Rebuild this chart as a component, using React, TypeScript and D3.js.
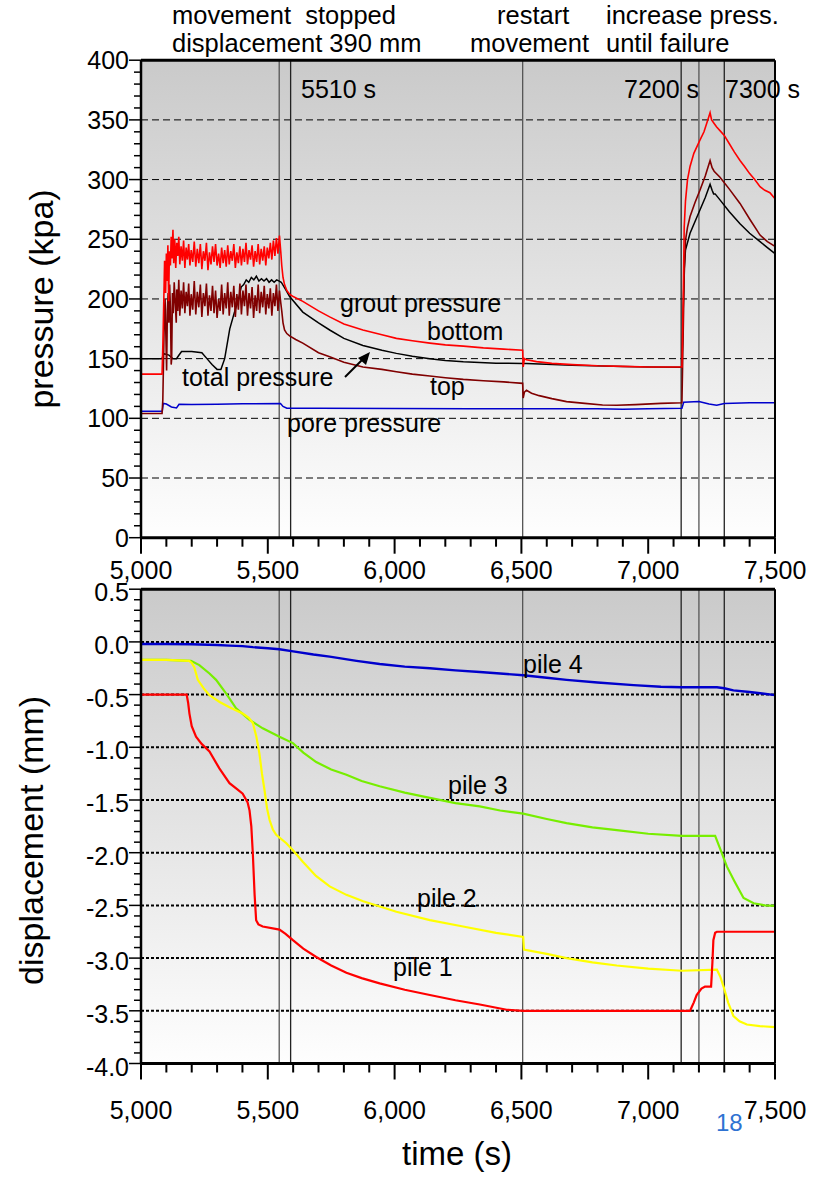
import React from "react";
import * as d3 from "d3";

// ---------- data ----------
const timeTicks = [5000, 5500, 6000, 6500, 7000, 7500];
const pressureTicks = [0, 50, 100, 150, 200, 250, 300, 350, 400];
const pressureGrid = [50, 100, 150, 200, 250, 300, 350];
const dispTicks = [0.5, 0, -0.5, -1, -1.5, -2, -2.5, -3, -3.5, -4];
const dispGrid = [0, -0.5, -1, -1.5, -2, -2.5, -3, -3.5];
const eventTimes = [5545, 5590, 6505, 7130, 7200, 7300];

type P = [number, number];

const groutBottom: P[] = [
  [5000, 137], [5083, 137], [5086, 160], [5090, 200], [5093, 232], [5097, 205], [5100, 238], [5103, 215], [5106, 245], [5109, 198],
  [5112, 240], [5116, 228], [5119, 252], [5122, 234], [5126, 258], [5129, 230], [5133, 250], [5137, 226], [5141, 247], [5145, 236],
  [5149, 252], [5153, 229], [5158, 244], [5163, 232], [5168, 249], [5173, 226], [5178, 243], [5183, 233], [5188, 246], [5193, 228],
  [5198, 241], [5204, 231], [5210, 248], [5216, 227], [5222, 242], [5228, 230], [5234, 246], [5240, 225], [5246, 240], [5252, 232],
  [5258, 247], [5264, 224], [5270, 239], [5276, 229], [5282, 244], [5288, 231], [5294, 246], [5300, 228], [5306, 238], [5312, 226],
  [5318, 243], [5324, 230], [5330, 241], [5336, 227], [5342, 245], [5348, 229], [5354, 240], [5360, 232], [5366, 246], [5372, 226],
  [5378, 239], [5384, 230], [5390, 244], [5396, 228], [5402, 242], [5408, 231], [5414, 247], [5420, 229], [5426, 241], [5432, 233],
  [5438, 245], [5444, 227], [5450, 240], [5456, 231], [5462, 246], [5468, 229], [5474, 242], [5480, 232], [5486, 244], [5492, 228],
  [5498, 243], [5504, 234], [5510, 247], [5516, 233], [5522, 249], [5528, 236], [5534, 251], [5540, 238], [5546, 253], [5551, 240],
  [5555, 228], [5560, 218], [5566, 212], [5575, 207], [5586, 204], [5600, 202], [5638, 198], [5700, 190], [5744, 185], [5800, 179],
  [5875, 174], [5950, 170], [6007, 167], [6070, 165], [6139, 163], [6200, 161.5], [6271, 160.5], [6350, 159], [6430, 158], [6505, 157],
  [6507, 143], [6512, 150], [6520, 149], [6560, 147.5], [6620, 146], [6700, 145], [6800, 144], [6900, 143.5], [7000, 143], [7100, 143],
  [7133, 143], [7138, 200], [7142, 260], [7147, 282], [7155, 300], [7165, 311], [7180, 322], [7204, 333], [7220, 340], [7235, 350],
  [7244, 356], [7250, 350], [7260, 347], [7270, 344], [7283, 341], [7300, 337], [7320, 330], [7340, 323], [7362, 316], [7380, 311],
  [7400, 305], [7420, 300], [7441, 294], [7460, 291], [7480, 289], [7500, 284],
];

const groutTop: P[] = [
  [5000, 104], [5083, 104], [5086, 115], [5089, 150], [5092, 185], [5095, 200], [5098, 170], [5101, 140], [5104, 190], [5107, 205],
  [5110, 180], [5113, 212], [5116, 192], [5119, 145], [5121, 150], [5124, 205], [5127, 188], [5131, 214], [5135, 196], [5139, 180],
  [5141, 208], [5145, 190], [5149, 216], [5153, 186], [5158, 207], [5163, 192], [5168, 214], [5173, 188], [5178, 206], [5183, 194],
  [5188, 213], [5193, 186], [5198, 204], [5204, 191], [5210, 215], [5216, 187], [5222, 206], [5228, 193], [5234, 212], [5240, 185],
  [5246, 205], [5252, 194], [5258, 213], [5264, 186], [5270, 203], [5276, 190], [5282, 211], [5288, 188], [5294, 207], [5300, 184],
  [5306, 200], [5312, 190], [5318, 212], [5324, 187], [5330, 205], [5336, 192], [5342, 214], [5348, 186], [5354, 206], [5360, 193],
  [5366, 211], [5372, 185], [5378, 204], [5384, 191], [5390, 213], [5396, 187], [5402, 207], [5408, 194], [5414, 212], [5420, 186],
  [5426, 205], [5432, 192], [5438, 210], [5444, 184], [5450, 203], [5456, 190], [5462, 212], [5468, 188], [5474, 206], [5480, 193],
  [5486, 211], [5492, 187], [5498, 204], [5504, 192], [5510, 209], [5516, 186], [5522, 205], [5528, 194], [5534, 212], [5540, 190],
  [5546, 207], [5551, 197], [5555, 190], [5560, 180], [5566, 174], [5575, 171], [5586, 169], [5610, 166], [5638, 163], [5700, 155],
  [5744, 151.6], [5800, 147], [5875, 143], [5950, 141], [6007, 139], [6070, 137], [6139, 135.4], [6200, 134], [6271, 132.6], [6350, 131.5],
  [6430, 130.5], [6505, 129.3], [6507, 117], [6512, 122], [6520, 123.5], [6540, 121], [6570, 119], [6620, 116.5], [6678, 114], [6750, 112.5],
  [6820, 111.2], [6876, 111], [6950, 111.5], [7050, 112.5], [7133, 113], [7137, 160], [7142, 220], [7147, 249], [7155, 260], [7165, 269],
  [7185, 281], [7204, 291], [7225, 303], [7244, 316], [7252, 310], [7260, 307], [7283, 302], [7320, 292], [7362, 280], [7400, 267],
  [7441, 253.5], [7470, 248], [7500, 244],
];

const totalPressure: P[] = [
  [5000, 150], [5083, 150], [5087, 153], [5092, 154], [5110, 153], [5125, 150], [5140, 150], [5150, 153], [5160, 156], [5200, 156],
  [5240, 155], [5260, 150], [5280, 145], [5300, 141], [5315, 141], [5330, 150], [5350, 175], [5370, 190], [5385, 200], [5395, 210],
  [5405, 212], [5415, 216], [5425, 214], [5435, 218], [5445, 216], [5455, 219], [5465, 215], [5475, 217], [5485, 215], [5495, 217],
  [5505, 214], [5515, 216], [5525, 214], [5535, 216], [5545, 215], [5553, 214], [5570, 208], [5586, 202], [5638, 189], [5700, 180],
  [5744, 174], [5800, 167], [5875, 161], [5950, 157], [6007, 154.4], [6070, 152], [6139, 150], [6200, 148.5], [6271, 147.4], [6400, 146.2],
  [6506, 146], [6520, 146], [6700, 144.5], [6900, 143.5], [7000, 143], [7133, 142.7], [7138, 190], [7142, 225], [7147, 241], [7165, 255],
  [7204, 274.5], [7225, 285], [7244, 296], [7252, 291], [7258, 288], [7264, 288], [7283, 283], [7320, 273], [7362, 263], [7400, 255],
  [7441, 248], [7470, 243], [7500, 238],
];

const porePressure: P[] = [
  [5000, 106], [5084, 106], [5088, 112.5], [5100, 112], [5120, 109.5], [5140, 108.7], [5150, 111.7], [5200, 111.5], [5300, 111.8],
  [5400, 112.2], [5550, 112.5], [5560, 110], [5575, 108.5], [5700, 108.5], [6000, 108.3], [6300, 108], [6500, 108], [6800, 108],
  [6900, 107.5], [7000, 108], [7133, 108.5], [7140, 113.5], [7200, 114], [7240, 112], [7270, 111], [7300, 112.5], [7400, 113], [7500, 113],
];

const pile4: P[] = [
  [5000, -0.02], [5100, -0.02], [5200, -0.022], [5300, -0.03], [5349, -0.035], [5400, -0.04], [5441, -0.05], [5500, -0.06], [5546, -0.07],
  [5600, -0.09], [5680, -0.12], [5744, -0.14], [5850, -0.18], [5941, -0.21], [6040, -0.235], [6139, -0.25], [6240, -0.27], [6336, -0.285],
  [6416, -0.3], [6507, -0.316], [6600, -0.34], [6678, -0.36], [6800, -0.385], [6942, -0.41], [7050, -0.425], [7133, -0.43], [7200, -0.43],
  [7271, -0.43], [7300, -0.44], [7336, -0.46], [7400, -0.475], [7450, -0.49], [7500, -0.505],
];

const pile3: P[] = [
  [5000, -0.17], [5100, -0.17], [5197, -0.18], [5230, -0.22], [5270, -0.3], [5296, -0.36], [5336, -0.49], [5375, -0.63], [5428, -0.74],
  [5480, -0.82], [5546, -0.9], [5599, -0.96], [5640, -1.05], [5691, -1.14], [5750, -1.21], [5810, -1.26], [5870, -1.32], [5941, -1.37],
  [6040, -1.43], [6139, -1.48], [6240, -1.53], [6336, -1.56], [6416, -1.6], [6507, -1.63], [6600, -1.68], [6678, -1.72], [6780, -1.76],
  [6876, -1.785], [7000, -1.82], [7133, -1.84], [7264, -1.84], [7285, -1.97], [7310, -2.13], [7340, -2.27], [7376, -2.43], [7416, -2.48],
  [7460, -2.5], [7500, -2.505],
];

const pile2: P[] = [
  [5000, -0.17], [5100, -0.17], [5190, -0.18], [5200, -0.2], [5210, -0.24], [5224, -0.36], [5250, -0.45], [5270, -0.505], [5310, -0.57],
  [5349, -0.62], [5401, -0.68], [5425, -0.72], [5441, -0.77], [5455, -0.9], [5467, -1.06], [5477, -1.25], [5487, -1.405], [5497, -1.58],
  [5507, -1.69], [5520, -1.78], [5533, -1.83], [5573, -1.91], [5600, -1.98], [5638, -2.085], [5690, -2.22], [5744, -2.32], [5810, -2.4],
  [5876, -2.46], [6007, -2.56], [6139, -2.64], [6270, -2.7], [6400, -2.76], [6507, -2.8], [6510, -2.92], [6600, -2.96], [6678, -3.0],
  [6780, -3.04], [6876, -3.07], [7000, -3.1], [7133, -3.12], [7271, -3.11], [7285, -3.18], [7297, -3.27], [7315, -3.42], [7336, -3.55],
  [7360, -3.6], [7389, -3.63], [7440, -3.645], [7500, -3.655],
];

const pile1: P[] = [
  [5000, -0.5], [5100, -0.5], [5180, -0.5], [5186, -0.58], [5191, -0.68], [5200, -0.8], [5217, -0.9], [5240, -0.97], [5270, -1.04],
  [5309, -1.2], [5349, -1.34], [5380, -1.4], [5401, -1.44], [5420, -1.52], [5428, -1.6], [5435, -1.75], [5441, -2.01], [5448, -2.4],
  [5454, -2.64], [5463, -2.68], [5480, -2.7], [5546, -2.73], [5570, -2.77], [5599, -2.83], [5640, -2.91], [5691, -2.99], [5750, -3.07],
  [5810, -3.14], [5870, -3.19], [5941, -3.24], [6040, -3.3], [6139, -3.35], [6240, -3.4], [6336, -3.44], [6442, -3.49], [6507, -3.5],
  [6800, -3.5], [7165, -3.5], [7180, -3.42], [7191, -3.35], [7210, -3.29], [7224, -3.27], [7248, -3.27], [7253, -3.05], [7257, -2.83],
  [7264, -2.76], [7271, -2.75], [7500, -2.75],
];

// ---------- layout ----------
const W = 822;
const H = 1177;
const FONT = "'Liberation Sans', Arial, sans-serif";
const LEFT = 141;
const RIGHT = 775;
const TOP1 = 60.2;
const BOT1 = 537.7;
const TOP2 = 589.2;
const BOT2 = 1063.5;

const x = d3.scaleLinear().domain([5000, 7500]).range([LEFT, RIGHT]);
const yP = d3.scaleLinear().domain([0, 400]).range([BOT1, TOP1]);
const yD = d3.scaleLinear().domain([-4, 0.5]).range([BOT2, TOP2]);

const lineP = d3.line<P>().x((d) => x(d[0])).y((d) => yP(d[1]));
const lineD = d3.line<P>().x((d) => x(d[0])).y((d) => yD(d[1]));

const minorTimes = d3.range(5000, 7501, 100);
const minorP = d3.range(0, 401, 10);
const minorD = d3.range(-40, 6, 1).map((v) => v / 10);

const fmtTime = d3.format(",");

function XAxis({ yBase, labelY }: { yBase: number; labelY: number }) {
  return (
    <g>
      {minorTimes.map((t) => {
        const major = t % 500 === 0;
        return (
          <line key={t} x1={x(t)} x2={x(t)} y1={yBase} y2={yBase + (major ? 16 : 9)} stroke="#000" strokeWidth={2} />
        );
      })}
      {timeTicks.map((t) => (
        <text key={t} x={x(t)} y={labelY} textAnchor="middle" fontSize={25} fontFamily={FONT} fill="#000">
          {fmtTime(t)}
        </text>
      ))}
    </g>
  );
}

export default function App() {
  return (
    <svg width={W} height={H} style={{ position: "absolute", left: 0, top: 0, background: "#fff" }}>
      <defs>
        <linearGradient id="bg" x1="0" y1="0" x2="0" y2="1">
          <stop offset="0%" stopColor="#cacaca" />
          <stop offset="100%" stopColor="#fefefe" />
        </linearGradient>
      </defs>

      {/* ---------- top panel ---------- */}
      <rect x={LEFT} y={TOP1} width={RIGHT - LEFT} height={BOT1 - TOP1} fill="url(#bg)" />
      {pressureGrid.map((v) => (
        <line key={v} x1={LEFT} x2={RIGHT} y1={yP(v)} y2={yP(v)} stroke="#000" strokeWidth={1} strokeDasharray="7,4" />
      ))}
      {eventTimes.map((t, i) => (
        <line key={t} x1={x(t)} x2={x(t)} y1={TOP1} y2={BOT1} stroke={i % 2 === 0 ? "#555" : "#222"} strokeWidth={1.3} />
      ))}
      <path d={lineP(porePressure) || ""} fill="none" stroke="#0000cc" strokeWidth={1.5} />
      <path d={lineP(totalPressure) || ""} fill="none" stroke="#000" strokeWidth={1.5} />
      <path d={lineP(groutTop) || ""} fill="none" stroke="#800000" strokeWidth={1.6} />
      <path d={lineP(groutBottom) || ""} fill="none" stroke="#ff0000" strokeWidth={1.6} />

      {/* frame */}
      <line x1={LEFT} x2={RIGHT} y1={TOP1} y2={TOP1} stroke="#000" strokeWidth={3} />
      <line x1={RIGHT} x2={RIGHT} y1={TOP1} y2={BOT1} stroke="#000" strokeWidth={2} />
      <line x1={LEFT} x2={LEFT} y1={TOP1} y2={BOT1} stroke="#000" strokeWidth={2.5} />
      <line x1={LEFT} x2={RIGHT} y1={BOT1} y2={BOT1} stroke="#000" strokeWidth={3} />
      {minorP.map((v) => (
        <line key={v} x1={LEFT} x2={LEFT - (v % 50 === 0 ? 12 : 7)} y1={yP(v)} y2={yP(v)} stroke="#000" strokeWidth={1.5} />
      ))}
      {pressureTicks.map((v) => (
        <text key={v} x={129} y={yP(v)} dy="0.36em" textAnchor="end" fontSize={25} fontFamily={FONT}>
          {v}
        </text>
      ))}
      <XAxis yBase={BOT1} labelY={579} />
      <text transform={`translate(53,${(TOP1 + BOT1) / 2}) rotate(-90)`} textAnchor="middle" fontSize={34} fontFamily={FONT}>
        pressure (kpa)
      </text>

      {/* annotations top */}
      <text x={172} y={24} fontSize={25.5} fontFamily={FONT} style={{ whiteSpace: "pre" }}>
        {"movement  stopped"}
      </text>
      <text x={172} y={52} fontSize={25.5} fontFamily={FONT}>
        displacement 390 mm
      </text>
      <text x={497} y={24} fontSize={25.5} fontFamily={FONT}>
        restart
      </text>
      <text x={470} y={52} fontSize={25.5} fontFamily={FONT}>
        movement
      </text>
      <text x={606} y={24} fontSize={25.5} fontFamily={FONT}>
        increase press.
      </text>
      <text x={606} y={52} fontSize={25.5} fontFamily={FONT}>
        until failure
      </text>
      <text x={301} y={98} fontSize={25} fontFamily={FONT}>
        5510 s
      </text>
      <text x={624} y={98} fontSize={25} fontFamily={FONT}>
        7200 s
      </text>
      <text x={725} y={98} fontSize={25} fontFamily={FONT}>
        7300 s
      </text>
      <text x={340} y={312} fontSize={25} fontFamily={FONT}>
        grout pressure
      </text>
      <text x={427} y={340} fontSize={25} fontFamily={FONT}>
        bottom
      </text>
      <text x={182} y={386} fontSize={25} fontFamily={FONT}>
        total pressure
      </text>
      <text x={430} y={395} fontSize={25} fontFamily={FONT}>
        top
      </text>
      <text x={287} y={432} fontSize={25} fontFamily={FONT}>
        pore pressure
      </text>
      <line x1={345} y1={377} x2={364} y2={358} stroke="#000" strokeWidth={2} />
      <path d="M370,352 L358,358 L366,365 Z" fill="#000" />

      {/* ---------- bottom panel ---------- */}
      <rect x={LEFT} y={TOP2} width={RIGHT - LEFT} height={BOT2 - TOP2} fill="url(#bg)" />
      {dispGrid.map((v) => (
        <line key={v} x1={LEFT} x2={RIGHT} y1={yD(v)} y2={yD(v)} stroke="#000" strokeWidth={2} strokeDasharray="3,2" />
      ))}
      {eventTimes.map((t, i) => (
        <line key={t} x1={x(t)} x2={x(t)} y1={TOP2} y2={BOT2} stroke={i % 2 === 0 ? "#555" : "#222"} strokeWidth={1.3} />
      ))}
      <path d={lineD(pile4) || ""} fill="none" stroke="#0000cc" strokeWidth={2.4} />
      <path d={lineD(pile3) || ""} fill="none" stroke="#77ee00" strokeWidth={2.2} />
      <path d={lineD(pile2) || ""} fill="none" stroke="#ffff00" strokeWidth={2.2} />
      <path d={lineD(pile1) || ""} fill="none" stroke="#ff0000" strokeWidth={2.2} />

      <line x1={LEFT} x2={RIGHT} y1={TOP2} y2={TOP2} stroke="#000" strokeWidth={3} />
      <line x1={RIGHT} x2={RIGHT} y1={TOP2} y2={BOT2} stroke="#000" strokeWidth={2} />
      <line x1={LEFT} x2={LEFT} y1={TOP2} y2={BOT2} stroke="#000" strokeWidth={2.5} />
      <line x1={LEFT} x2={RIGHT} y1={BOT2} y2={BOT2} stroke="#000" strokeWidth={3} />
      {minorD.map((v) => {
        const major = Math.abs(Math.round(v * 10)) % 5 === 0;
        return <line key={v} x1={LEFT} x2={LEFT - (major ? 12 : 7)} y1={yD(v)} y2={yD(v)} stroke="#000" strokeWidth={1.5} />;
      })}
      {dispTicks.map((v) => (
        <text key={v} x={129} y={yD(v) + 3} dy="0.36em" textAnchor="end" fontSize={25} fontFamily={FONT}>
          {d3.format(".1f")(v).replace("−", "-")}
        </text>
      ))}
      <XAxis yBase={BOT2} labelY={1119} />
      <text transform={`translate(43,${(TOP2 + BOT2) / 2 + 14}) rotate(-90)`} textAnchor="middle" fontSize={34} fontFamily={FONT}>
        displacement (mm)
      </text>
      <text x={457} y={1165} textAnchor="middle" fontSize={33} fontFamily={FONT}>
        time (s)
      </text>

      <text x={523} y={673} fontSize={25} fontFamily={FONT}>
        pile 4
      </text>
      <text x={448} y={794} fontSize={25} fontFamily={FONT}>
        pile 3
      </text>
      <text x={417} y={907} fontSize={25} fontFamily={FONT}>
        pile 2
      </text>
      <text x={393} y={976} fontSize={25} fontFamily={FONT}>
        pile 1
      </text>

      <text x={716} y={1131} fontSize={24} fontFamily={FONT} fill="#2e72d2">
        18
      </text>
    </svg>
  );
}
